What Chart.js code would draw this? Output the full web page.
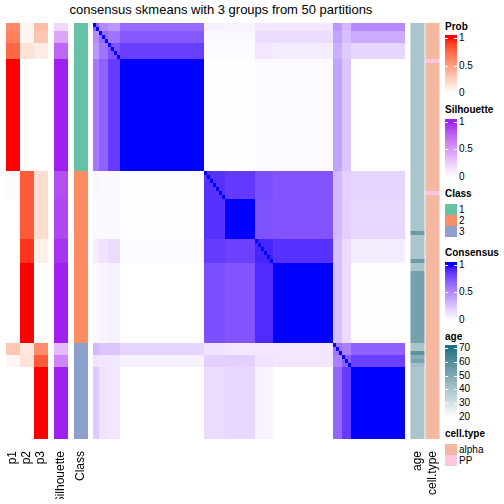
<!DOCTYPE html>
<html>
<head>
<meta charset="utf-8">
<script src="https://cdn.jsdelivr.net/npm/chart.js@4.4.0/dist/chart.umd.min.js"></script>
<style>
  body { margin: 0; width: 504px; height: 504px; overflow: hidden; background: #fff; position: relative;
         font-family: "Liberation Sans", Arial, sans-serif; color: #000; }
  canvas { position: absolute; }
  #title { position: absolute; left: 0; width: 442px; top: 3px; line-height: 14px; text-align: center; font-size: 13px; }
  .lg-title { position: absolute; left: 445px; font-size: 10px; line-height: 12px; font-weight: bold; white-space: nowrap; }
  .lg-lab { position: absolute; left: 459px; font-size: 10px; line-height: 12px; white-space: nowrap; }
  .lg-box { position: absolute; left: 445px; width: 12px; }
</style>
</head>
<body>
<div id="title">consensus skmeans with 3 groups from 50 partitions</div>
<canvas id="probs" width="42" height="476" style="left:6px;top:23px"></canvas>
<canvas id="silh" width="14" height="476" style="left:54px;top:23px"></canvas>
<canvas id="cls" width="14" height="476" style="left:74px;top:23px"></canvas>
<canvas id="matrix" width="312" height="416" style="left:93px;top:23px"></canvas>
<canvas id="right" width="30" height="476" style="left:410px;top:23px"></canvas>
<script>
// ===== DATA =====
// samples are grouped in segments (same order for rows and columns)
const segNames = ["c1a", "c1b", "c1c", "c1m", "c2a", "c2b", "c2c", "c2m", "c3a", "c3b", "c3m"];
const segSizes = [2, 3, 4, 28, 7, 10, 6, 20, 3, 3, 18];
const segClass = [1, 1, 1, 1, 2, 2, 2, 2, 3, 3, 3];
const segP1 = [0.6, 0.65, 0.75, 1, 0.02, 0, 0, 0, 0.3, 0.05, 0];
const segP2 = [0.05, 0.05, 0.15, 0, 0.8, 0.8, 0.92, 1, 0.12, 0.15, 0];
const segP3 = [0.35, 0.3, 0.1, 0, 0.18, 0.18, 0.08, 0, 0.58, 0.8, 1];
const segSilhouette = [0.2, 0.45, 0.75, 1, 0.85, 0.88, 0.95, 1, 0.35, 0.6, 1];

// consensus between segments (row segment x column segment)
const consensus = [
  [0.70, 0.50, 0.45, 0.64, 0.06, 0.05, 0.10, 0.10, 0.45, 0.30, 0.50],
  [0.50, 0.65, 0.60, 0.72, 0.03, 0.03, 0.14, 0.14, 0.40, 0.28, 0.36],
  [0.45, 0.60, 0.75, 0.83, 0.02, 0.02, 0.10, 0.08, 0.35, 0.22, 0.18],
  [0.58, 0.68, 0.84, 1.00, 0.01, 0.01, 0.02, 0.02, 0.40, 0.25, 0.00],
  [0.04, 0.03, 0.03, 0.01, 0.88, 0.85, 0.76, 0.74, 0.30, 0.20, 0.18],
  [0.03, 0.03, 0.03, 0.01, 0.88, 1.00, 0.75, 0.74, 0.30, 0.20, 0.17],
  [0.08, 0.12, 0.15, 0.02, 0.84, 0.82, 0.92, 0.88, 0.28, 0.15, 0.08],
  [0.03, 0.05, 0.06, 0.00, 0.76, 0.74, 0.90, 1.00, 0.28, 0.15, 0.01],
  [0.30, 0.25, 0.25, 0.18, 0.12, 0.10, 0.10, 0.10, 0.60, 0.55, 0.68],
  [0.12, 0.10, 0.10, 0.06, 0.20, 0.20, 0.12, 0.10, 0.55, 0.70, 0.82],
  [0.22, 0.12, 0.10, 0.00, 0.15, 0.17, 0.05, 0.00, 0.66, 0.84, 1.00]
];

// per-sample runs: [count, value]
const ageRuns = [[52, 40], [1, 55], [6, 40], [1, 55], [2, 40], [18, 53], [2, 40], [1, 58], [1, 48], [1, 52], [1, 42], [18, 40]];
const cellTypeRuns = [[9, "alpha"], [1, "PP"], [32, "alpha"], [1, "PP"], [61, "alpha"]];

const leftColumns = ["p1", "p2", "p3"];
const rightColumns = ["age", "cell.type"];
const classLevels = ["1", "2", "3"];
const classColors = ["#66C2A5", "#FC8D62", "#8DA0CB"];
const cellTypes = ["alpha", "PP"];
const cellTypeColors = ["#F4B8A0", "#FDC6E0"];
const probTicks = ["1", "0.5", "0"];
const ageTicks = ["70", "60", "50", "40", "30", "20"];

// ===== COLOURS (LAB interpolation from white) =====
function toLab(hex) {
  const [r, g, b] = [1, 3, 5].map(i => parseInt(hex.slice(i, i + 2), 16) / 255)
    .map(c => c <= 0.04045 ? c / 12.92 : Math.pow((c + 0.055) / 1.055, 2.4));
  const x = (0.4124 * r + 0.3576 * g + 0.1805 * b) / 0.95047;
  const y = 0.2126 * r + 0.7152 * g + 0.0722 * b;
  const z = (0.0193 * r + 0.1192 * g + 0.9505 * b) / 1.08883;
  const f = t => t > 0.008856 ? Math.cbrt(t) : 7.787 * t + 16 / 116;
  return [116 * f(y) - 16, 500 * (f(x) - f(y)), 200 * (f(y) - f(z))];
}
function fromLab([L, a, b]) {
  const fy = (L + 16) / 116, fx = fy + a / 500, fz = fy - b / 200;
  const g = t => t * t * t > 0.008856 ? t * t * t : (t - 16 / 116) / 7.787;
  const x = g(fx) * 0.95047, y = g(fy), z = g(fz) * 1.08883;
  const lin = [3.2406 * x - 1.5372 * y - 0.4986 * z, -0.9689 * x + 1.8758 * y + 0.0415 * z, 0.0557 * x - 0.2040 * y + 1.0570 * z];
  const enc = c => {
    c = Math.min(1, Math.max(0, c));
    c = c <= 0.0031308 ? 12.92 * c : 1.055 * Math.pow(c, 1 / 2.4) - 0.055;
    return Math.round(Math.min(1, Math.max(0, c)) * 255);
  };
  return "rgb(" + lin.map(enc).join(",") + ")";
}
function ramp(hex) {
  const lo = toLab("#FFFFFF"), hi = toLab(hex);
  return t => fromLab(lo.map((v, i) => v + (hi[i] - v) * Math.min(1, Math.max(0, t))));
}
const probColor = ramp("#FF0000");
const silColor = ramp("#A020F0");
const consColor = ramp("#0000FF");
const ageRamp = ramp("#1D7383");
const ageColor = a => ageRamp((a - 20) / 50);

// ===== EXPAND SEGMENTS TO SAMPLES =====
const sampleSeg = [];
segSizes.forEach((n, s) => { for (let k = 0; k < n; k++) sampleSeg.push(s); });
const N = sampleSeg.length;
const sampleAge = [];
ageRuns.forEach(([n, v]) => { for (let k = 0; k < n; k++) sampleAge.push(v); });
const sampleCellType = [];
cellTypeRuns.forEach(([n, v]) => { for (let k = 0; k < n; k++) sampleCellType.push(v); });

const FONT = "'Liberation Sans', Arial, sans-serif";

function baseOptions(showLabels) {
  return {
    responsive: false,
    animation: false,
    events: [],
    layout: { padding: 0 },
    plugins: { legend: { display: false }, tooltip: { enabled: false } },
    datasets: { bar: { grouped: false, barPercentage: 1, categoryPercentage: 1, borderWidth: 0, inflateAmount: 0 } },
    scales: {
      x: showLabels ? {
        grid: { display: false },
        border: { display: false },
        ticks: { autoSkip: false, minRotation: 90, maxRotation: 90, padding: 4, color: "#000", font: { family: FONT, size: 12 } },
        // fixed label band, no side padding so the bars keep the full width
        afterFit: s => { s.height = 60; s.paddingLeft = 0; s.paddingRight = 0; }
      } : { display: false },
      y: { display: false, min: 0, max: N, reverse: true }
    }
  };
}

// one dataset per sample row, a floating bar [row, row+1] for every column
function rowDatasets(columns, colorOf) {
  return sampleSeg.map((seg, r) => ({
    data: columns.map(() => [r, r + 1]),
    backgroundColor: columns.map((c, k) => colorOf(r, k))
  }));
}

// ===== LEFT ANNOTATIONS =====
const probArrays = [segP1, segP2, segP3];
new Chart(document.getElementById("probs"), {
  type: "bar",
  data: { labels: leftColumns, datasets: rowDatasets(leftColumns, (r, k) => probColor(probArrays[k][sampleSeg[r]])) },
  options: baseOptions(true)
});
new Chart(document.getElementById("silh"), {
  type: "bar",
  data: { labels: ["Silhouette"], datasets: rowDatasets(["Silhouette"], r => silColor(segSilhouette[sampleSeg[r]])) },
  options: baseOptions(true)
});
new Chart(document.getElementById("cls"), {
  type: "bar",
  data: { labels: ["Class"], datasets: rowDatasets(["Class"], r => classColors[segClass[sampleSeg[r]] - 1]) },
  options: baseOptions(true)
});

// ===== CONSENSUS MATRIX =====
const sampleIds = sampleSeg.map((s, i) => "s" + (i + 1));
new Chart(document.getElementById("matrix"), {
  type: "bar",
  data: {
    labels: sampleIds,
    datasets: rowDatasets(sampleIds, (r, c) => consColor(r === c ? 1 : consensus[sampleSeg[r]][sampleSeg[c]]))
  },
  options: baseOptions(false)
});

// ===== RIGHT ANNOTATIONS =====
const rightOpts = baseOptions(true);
rightOpts.datasets.bar.barPercentage = 0.94;
new Chart(document.getElementById("right"), {
  type: "bar",
  data: {
    labels: rightColumns,
    datasets: rowDatasets(rightColumns, (r, k) => k === 0
      ? ageColor(sampleAge[r])
      : cellTypeColors[cellTypes.indexOf(sampleCellType[r])])
  },
  options: rightOpts
});

// ===== LEGENDS =====
function addDiv(cls, text, top, extra) {
  const d = document.createElement("div");
  d.className = cls;
  if (text !== null) d.textContent = text;
  d.style.top = top + "px";
  Object.assign(d.style, extra || {});
  document.body.appendChild(d);
  return d;
}
function gradientLegend(title, ty, colorFn, labels, tTop, tBottom, firstOff, step, barTop, barBottom) {
  addDiv("lg-title", title, ty - 6);
  const yFirst = ty + firstOff, yLast = yFirst + step * (labels.length - 1);
  const stops = [];
  for (let k = 0; k <= 20; k++) {
    const y = yFirst + (yLast - yFirst) * k / 20;
    stops.push(colorFn(tTop + (tBottom - tTop) * k / 20) + " " + (y - (ty + barTop)).toFixed(1) + "px");
  }
  addDiv("lg-box", null, ty + barTop, {
    height: (barBottom - barTop) + "px",
    background: "linear-gradient(to bottom, " + stops.join(", ") + ")"
  });
  labels.forEach((lab, k) => {
    const y = yFirst + step * k;
    addDiv("lg-lab", lab, y - 6);
    ["445px", "454px"].forEach(x => addDiv("lg-box", null, Math.round(y), { left: x, width: "3px", height: "1px", background: "#fff" }));
  });
}
function discreteLegend(title, ty, labels, colors) {
  addDiv("lg-title", title, ty - 6);
  labels.forEach((lab, k) => {
    addDiv("lg-box", null, ty + 10 + 11 * k, { height: "11px", background: colors[k] });
    addDiv("lg-lab", lab, ty + 15.5 + 11 * k - 6);
  });
}
gradientLegend("Prob", 26.5, probColor, probTicks, 1, 0, 11.5, 27.5, 8.5, 67);
gradientLegend("Silhouette", 110, silColor, probTicks, 1, 0, 11.5, 27.5, 8.5, 67);
discreteLegend("Class", 194, classLevels, classColors);
gradientLegend("Consensus", 253, consColor, probTicks, 1, 0, 11.5, 27.5, 8.5, 67);
gradientLegend("age", 337, ageColor, ageTicks, 70, 20, 11, 13.8, 8, 81.5);
discreteLegend("cell.type", 434, cellTypes, cellTypeColors);
</script>
</body>
</html>
